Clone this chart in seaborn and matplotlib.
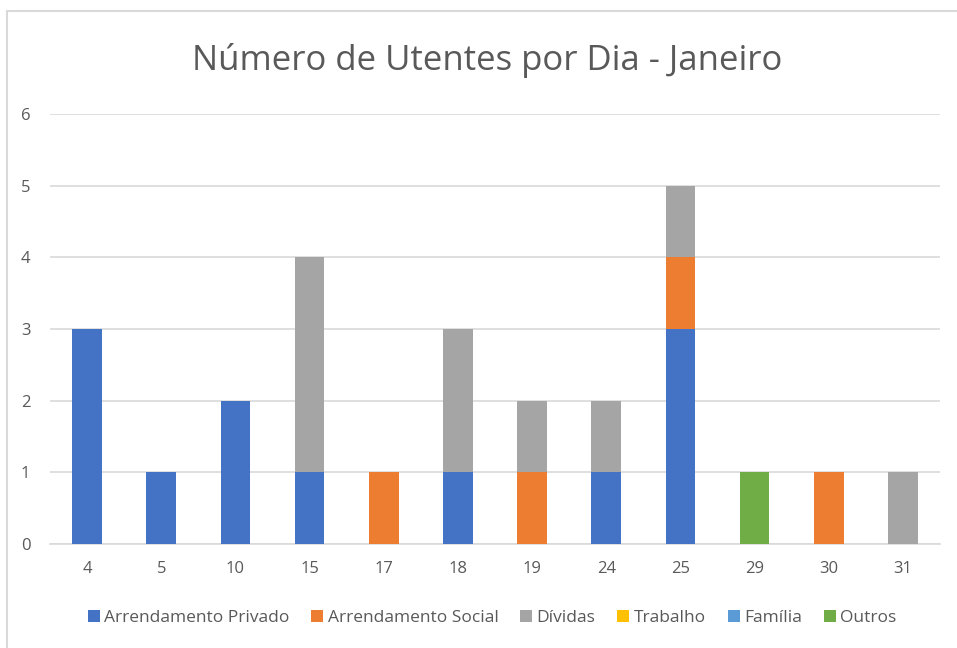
import pandas as pd
import numpy as np
import matplotlib
matplotlib.use("Agg")
import matplotlib.pyplot as plt
import seaborn as sns
from matplotlib.patches import Rectangle, Patch

# dados
dias = ["4", "5", "10", "15", "17", "18", "19", "24", "25", "29", "30", "31"]
arrendamento_privado = [3, 1, 2, 1, 0, 1, 0, 1, 3, 0, 0, 0]
arrendamento_social = [0, 0, 0, 0, 1, 0, 1, 0, 1, 0, 1, 0]
dividas = [0, 0, 0, 3, 0, 2, 1, 1, 1, 0, 0, 1]
trabalho = [0] * 12
familia = [0] * 12
outros = [0, 0, 0, 0, 0, 0, 0, 0, 0, 1, 0, 0]

series = ["Arrendamento Privado", "Arrendamento Social", "Dívidas", "Trabalho", "Família", "Outros"]
valores = [arrendamento_privado, arrendamento_social, dividas, trabalho, familia, outros]
cores = ["#4472C4", "#ED7D31", "#A5A5A5", "#FFC000", "#5B9BD5", "#70AD47"]

sns.set_style("white")
plt.rcParams['font.family'] = ['Open Sans', 'DejaVu Sans']

fig = plt.figure(figsize=(9.57, 6.48), dpi=100)
ax = fig.add_axes([50/957, 1-544/648, 890/957, 430/648])

# moldura
fig.patches.append(Rectangle((7/957, -0.1), 1.2, (1-11/648) + 0.1, transform=fig.transFigure,
                             fill=False, edgecolor="#D9D9D9", linewidth=1.5, zorder=0))

base = np.zeros(len(dias))
for nome, vals, cor in zip(series, valores, cores):
    df = pd.DataFrame({"dia": dias, "n": vals})
    sns.barplot(data=df, x="dia", y="n", order=dias, color=cor, width=0.4,
                bottom=base, ax=ax, saturation=1, zorder=3, linewidth=0)
    base = base + np.array(vals)

ax.set_ylim(0, 6)
ax.set_xlim(-0.5, len(dias) - 0.5)
ax.set_yticks(range(0, 7))
ax.yaxis.grid(True, color="#D9D9D9", linewidth=1.2, zorder=0)
ax.set_axisbelow(True)
for s in ["top", "right", "left"]:
    ax.spines[s].set_visible(False)
ax.spines["bottom"].set_color("#D9D9D9")
ax.spines["bottom"].set_linewidth(1.2)
ax.tick_params(axis="both", length=0, labelsize=12, colors="#595959")
ax.tick_params(axis="x", pad=12)
ax.tick_params(axis="y", pad=21)
for lab in ax.get_yticklabels():
    lab.set_horizontalalignment("left")
ax.set_xlabel("")
ax.set_ylabel("")

fig.text(487/957, 1-60/648, "Número de Utentes por Dia - Janeiro", ha="center", va="center",
         fontsize=25, color="#595959")

handles = [Patch(facecolor=c, edgecolor="none") for c in cores]
fig.legend(handles, series, loc="center", bbox_to_anchor=(492/957, 1-618/648), ncol=6,
           frameon=False, fontsize=12.5, handlelength=0.7, handleheight=0.7,
           handletextpad=0.25, columnspacing=1.25, labelcolor="#595959")

fig.savefig("out.png", dpi=100)
